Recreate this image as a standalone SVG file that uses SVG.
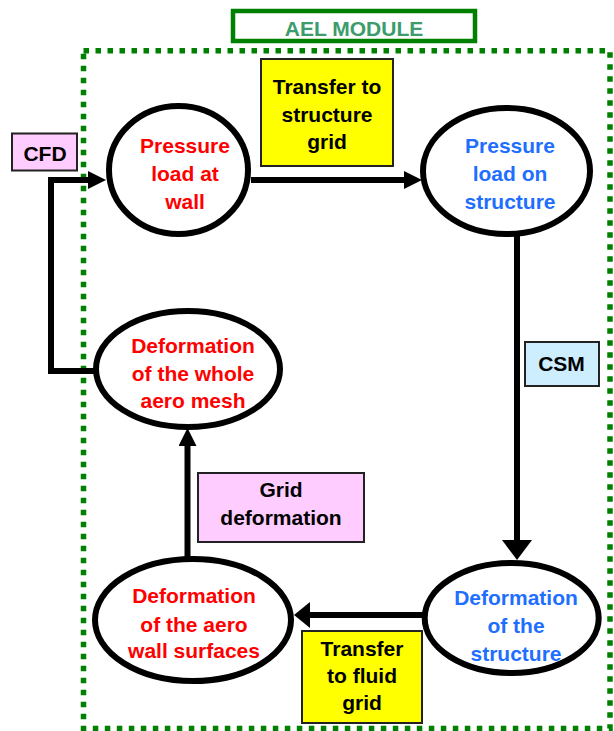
<svg xmlns="http://www.w3.org/2000/svg" width="614" height="731" viewBox="0 0 614 731">
<defs>
<style>
.t{font-family:"Liberation Sans",Arial,sans-serif;font-weight:bold;font-size:21px;text-anchor:middle}
.red{fill:#ff0000}
.blue{fill:#1f6fff}
.blk{fill:#000}
.node{fill:#fff;stroke:#000;stroke-width:6}
.box{stroke:#222;stroke-width:2}
.yel{fill:#ffff00}
.pink{fill:#ffccff}
.lblue{fill:#cceeff}
.con{fill:none;stroke:#000;stroke-width:6;stroke-linejoin:miter}
</style>
<marker id="a1" markerUnits="userSpaceOnUse" markerWidth="18" markerHeight="18" refX="0" refY="9" orient="auto"><path d="M0,0 L18,9 L0,18 z" fill="#000"/></marker>
<marker id="a2" markerUnits="userSpaceOnUse" markerWidth="16" markerHeight="26" refX="0" refY="13" orient="auto"><path d="M0,0 L16,13 L0,26 z" fill="#000"/></marker>
<marker id="a3" markerUnits="userSpaceOnUse" markerWidth="20" markerHeight="30" refX="0" refY="15" orient="auto"><path d="M0,0 L20,15 L0,30 z" fill="#000"/></marker>
</defs>
<rect width="614" height="731" fill="#fff"/>

<g id="module-title">
<rect x="233" y="11" width="242" height="30" fill="#fff" stroke="#008000" stroke-width="4.5"/>
<text x="354" y="36" class="t" style="fill:#3c9c6c">AEL MODULE</text>
</g>

<g id="module-border">
<rect x="83.5" y="50.7" width="526.5" height="677.8" fill="none" stroke="#008000" stroke-width="5.5" stroke-dasharray="5.5 6.5"/>
</g>

<g id="connectors">
<polyline class="con" points="94,371 51,371 51,180 88,180" marker-end="url(#a1)"/>
<line class="con" x1="251" y1="180" x2="404" y2="180" marker-end="url(#a1)"/>
<line class="con" x1="517" y1="234" x2="517" y2="540" marker-end="url(#a3)"/>
<line class="con" x1="427" y1="615" x2="310" y2="615" marker-end="url(#a2)"/>
<line class="con" x1="187.5" y1="558" x2="187.5" y2="446" marker-end="url(#a1)"/>
</g>

<g id="cfd-label">
<rect x="12" y="133.5" width="65" height="37" class="box pink"/>
<text x="45" y="161" class="t blk">CFD</text>
</g>

<g id="transfer-structure-label">
<rect x="261" y="59" width="132" height="107" class="box yel"/>
<text class="t blk"><tspan x="327" y="94">Transfer to</tspan><tspan x="327" y="122">structure</tspan><tspan x="327" y="149">grid</tspan></text>
</g>

<g id="csm-label">
<rect x="525" y="342" width="74" height="44" class="box lblue"/>
<text x="561.5" y="371" class="t blk">CSM</text>
</g>

<g id="grid-deformation-label">
<rect x="198" y="473" width="166" height="69" class="box pink"/>
<text class="t blk"><tspan x="281" y="497">Grid</tspan><tspan x="281" y="525">deformation</tspan></text>
</g>

<g id="transfer-fluid-label">
<rect x="302" y="631" width="120" height="92" class="box yel"/>
<text class="t blk"><tspan x="362" y="656">Transfer</tspan><tspan x="362" y="683">to fluid</tspan><tspan x="362" y="710">grid</tspan></text>
</g>

<g id="node-pressure-wall">
<ellipse cx="178.5" cy="170" rx="69.5" ry="64" class="node"/>
<text class="t red"><tspan x="185" y="153">Pressure</tspan><tspan x="185" y="181">load at</tspan><tspan x="185" y="209">wall</tspan></text>
</g>

<g id="node-pressure-structure">
<ellipse cx="506.5" cy="171" rx="83.5" ry="63" class="node"/>
<text class="t blue"><tspan x="510" y="153">Pressure</tspan><tspan x="510" y="181">load on</tspan><tspan x="510" y="209">structure</tspan></text>
</g>

<g id="node-deform-mesh">
<ellipse cx="188" cy="369" rx="92" ry="58" class="node"/>
<text class="t red"><tspan x="193" y="353">Deformation</tspan><tspan x="193" y="381">of the whole</tspan><tspan x="193" y="408">aero mesh</tspan></text>
</g>

<g id="node-deform-wall">
<ellipse cx="193" cy="620" rx="98" ry="61" class="node"/>
<text class="t red"><tspan x="194" y="603">Deformation</tspan><tspan x="194" y="632">of the aero</tspan><tspan x="194" y="658">wall surfaces</tspan></text>
</g>

<g id="node-deform-structure">
<ellipse cx="511.7" cy="618" rx="87" ry="55" class="node"/>
<text class="t blue"><tspan x="516" y="605">Deformation</tspan><tspan x="516" y="633">of the</tspan><tspan x="516" y="661">structure</tspan></text>
</g>
</svg>
